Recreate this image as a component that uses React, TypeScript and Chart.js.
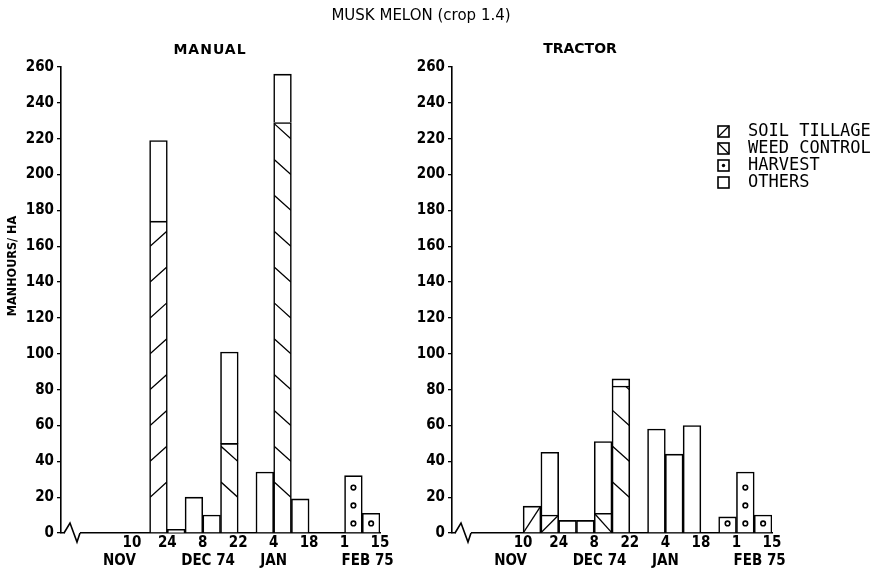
import React, { useEffect, useRef } from 'react';
import { Chart, registerables } from 'chart.js';

Chart.register(...registerables);
Chart.defaults.color = '#000';

// ---------- data ----------
// one bar per week; week 0 starts 13 Oct 1974, week 4 starts 10 Nov
const weekBins = [0, 1, 2, 3, 4, 5, 6, 7, 8, 9, 10, 11, 12, 13, 14, 15, 16, 17];

const seriesNames = ['SOIL TILLAGE', 'WEED CONTROL', 'HARVEST', 'OTHERS'];

const manualTillage = [null, null, null, null, null, 174, null, null, null, null, null, null, null, null, null, null, null, null];
const manualWeed = [null, null, null, null, null, null, null, null, null, 50, null, null, 229, null, null, null, null, null];
const manualHarvest = [null, null, null, null, null, null, null, null, null, null, null, null, null, null, null, null, 32, 11];
const manualOthers = [null, null, null, null, null, 45, 2, 20, 10, 51, null, 34, 27, 19, null, null, null, null];

const tractorTillage = [null, null, null, null, 15, 10, null, null, null, null, null, null, null, null, null, null, null, null];
const tractorWeed = [null, null, null, null, null, null, null, null, 11, 82, null, null, null, null, null, null, null, null];
const tractorHarvest = [null, null, null, null, null, null, null, null, null, null, null, null, null, null, null, 9, 34, 10];
const tractorOthers = [null, null, null, null, null, 35, 7, 7, 40, 4, null, 58, 44, 60, null, null, null, null];

const tickWeeks = [4, 6, 8, 10, 12, 14, 16, 18];
const tickDays = ['10', '24', '8', '22', '4', '18', '1', '15'];
const monthNames = ['NOV', 'DEC 74', 'JAN', 'FEB 75'];
const monthWeeks = [3.3, 8.3, 12.0, 17.3];

const hatchKinds = ['/', '\\', 'o', ''];

// ---------- styles ----------
const COND = "'DejaVu Sans Condensed', 'DejaVu Sans', sans-serif";
const SANS = "'DejaVu Sans', sans-serif";
const MONO = "'DejaVu Sans Mono', monospace";

function drawHatch(ctx: CanvasRenderingContext2D, ys: any, kind: string, left: number, right: number, top: number, bottom: number) {
  const v0 = ys.getValueForPixel(bottom);
  const v1 = ys.getValueForPixel(top);
  const w = right - left;
  const rise = w * 0.9;
  ctx.save();
  ctx.beginPath();
  ctx.rect(left, top, w, bottom - top);
  ctx.clip();
  ctx.strokeStyle = '#000';
  ctx.lineWidth = 1.3;
  if (kind === 'o') {
    for (let v = v0 + 5; v < v1 - 2; v += 10) {
      const cy = ys.getPixelForValue(v);
      ctx.beginPath();
      ctx.arc((left + right) / 2, cy, 2.3, 0, Math.PI * 2);
      ctx.lineWidth = 1.6;
      ctx.stroke();
    }
  } else if (kind === '/' || kind === '\\') {
    ctx.beginPath();
    if (v1 - v0 < 20) {
      if (kind === '/') { ctx.moveTo(left, bottom); ctx.lineTo(right, top); }
      else { ctx.moveTo(left, top); ctx.lineTo(right, bottom); }
    } else {
      for (let v = Math.ceil(v0 / 20 - 1e-6) * 20; v < v1; v += 20) {
        const py = ys.getPixelForValue(v);
        if (kind === '/') { ctx.moveTo(left, py); ctx.lineTo(right, py - rise); }
        else { ctx.moveTo(left, py - rise); ctx.lineTo(right, py); }
      }
    }
    ctx.stroke();
  }
  ctx.restore();
}

const hatchPlugin = {
  id: 'hatchFill',
  afterDatasetsDraw(chart: any) {
    const ctx = chart.ctx;
    const ys = chart.scales.y;
    chart.data.datasets.forEach((ds: any, di: number) => {
      const kind = ds.hatch;
      if (!kind) return;
      const meta = chart.getDatasetMeta(di);
      meta.data.forEach((el: any, i: number) => {
        if (ds.data[i] == null) return;
        const p = el.getProps(['x', 'y', 'base', 'width'], true);
        const left = p.x - p.width / 2;
        const right = p.x + p.width / 2;
        const top = Math.min(p.y, p.base);
        const bottom = Math.max(p.y, p.base);
        drawHatch(ctx, ys, kind, left + 0.5, right - 0.5, top + 0.5, bottom);
      });
    });
  },
};

const axisDecorPlugin = {
  id: 'axisDecor',
  afterDraw(chart: any) {
    const ctx = chart.ctx;
    const { left, bottom } = chart.chartArea;
    const xs = chart.scales.x;
    // axis break mark
    ctx.save();
    ctx.strokeStyle = '#fff';
    ctx.lineWidth = 4;
    ctx.beginPath();
    ctx.moveTo(left + 4, bottom);
    ctx.lineTo(left + 19, bottom);
    ctx.stroke();
    ctx.strokeStyle = '#000';
    ctx.lineWidth = 1.6;
    ctx.beginPath();
    ctx.moveTo(left + 3, bottom);
    ctx.lineTo(left + 9, bottom - 10);
    ctx.lineTo(left + 16, bottom + 9);
    ctx.lineTo(left + 19, bottom);
    ctx.stroke();
    // month names under the day ticks
    ctx.font = `bold 15px ${COND}`;
    ctx.fillStyle = '#000';
    ctx.textAlign = 'center';
    ctx.textBaseline = 'middle';
    monthNames.forEach((m, i) => {
      ctx.fillText(m, xs.getPixelForValue(monthWeeks[i]), bottom + 28);
    });
    ctx.restore();
  },
};

function makeTextPlugin(items: any[]) {
  return {
    id: 'freeText',
    afterDraw(chart: any) {
      const ctx = chart.ctx;
      items.forEach((t) => {
        ctx.save();
        ctx.font = t.font;
        if (t.spacing) (ctx as any).letterSpacing = t.spacing;
        ctx.fillStyle = '#000';
        ctx.textAlign = 'center';
        ctx.textBaseline = 'middle';
        ctx.translate(t.x, t.y);
        if (t.rotate) ctx.rotate(t.rotate);
        ctx.fillText(t.text, 0, 0);
        ctx.restore();
      });
    },
  };
}

function makeLegendPlugin(boxX: number, textX: number, firstY: number, gap: number) {
  return {
    id: 'patternLegend',
    afterDraw(chart: any) {
      const ctx = chart.ctx;
      chart.data.datasets.forEach((ds: any, i: number) => {
        const cy = firstY + i * gap;
        const top = cy - 5.5;
        const bottom = cy + 5.5;
        ctx.save();
        ctx.strokeStyle = '#000';
        ctx.lineWidth = 1.6;
        ctx.strokeRect(boxX, top, 11, 11);
        ctx.beginPath();
        ctx.lineWidth = 1.3;
        if (ds.hatch === '/') { ctx.moveTo(boxX, bottom); ctx.lineTo(boxX + 11, top); }
        if (ds.hatch === '\\') { ctx.moveTo(boxX, top); ctx.lineTo(boxX + 11, bottom); }
        ctx.stroke();
        if (ds.hatch === 'o') {
          ctx.beginPath();
          ctx.arc(boxX + 5.5, cy, 1.7, 0, Math.PI * 2);
          ctx.fill();
        }
        ctx.font = `17px ${MONO}`;
        ctx.fillStyle = '#000';
        ctx.textAlign = 'left';
        ctx.textBaseline = 'middle';
        ctx.fillText(ds.label, textX, cy + 0.5);
        ctx.restore();
      });
    },
  };
}

function makeConfig(series: any[], axisWidth: number, padRight: number, extraPlugins: any[]) {
  const datasets = series.map((arr, k) => ({
    label: seriesNames[k],
    data: arr,
    hatch: hatchKinds[k],
    backgroundColor: '#fff',
    borderColor: '#000',
    borderWidth: 1.6,
    barPercentage: 1,
    categoryPercentage: 1,
    stack: 'all',
  }));
  return {
    type: 'bar',
    data: { labels: weekBins.map((w) => w + 0.5), datasets },
    options: {
      responsive: false,
      animation: false,
      devicePixelRatio: 1,
      layout: { padding: { top: 67, right: padRight, left: 0, bottom: 0 } },
      plugins: { legend: { display: false }, tooltip: { enabled: false }, title: { display: false } },
      scales: {
        x: {
          type: 'linear',
          min: 0,
          max: 18,
          offset: false,
          stacked: true,
          afterBuildTicks: (s: any) => { s.ticks = tickWeeks.map((v) => ({ value: v })); },
          afterFit: (s: any) => { s.height = 39; },
          grid: { display: false, drawTicks: false, tickLength: 0, offset: false },
          border: { display: true, color: '#000', width: 1.6 },
          ticks: {
            autoSkip: false,
            maxRotation: 0,
            padding: 1,
            color: '#000',
            font: { family: COND, size: 15, weight: 'bold' },
            callback: (_v: any, i: number) => tickDays[i],
          },
        },
        y: {
          stacked: true,
          min: 0,
          max: 260,
          afterFit: (s: any) => { s.width = axisWidth; },
          grid: { display: true, drawOnChartArea: false, drawTicks: true, tickLength: 4, color: '#000', lineWidth: 1.3 },
          border: { display: true, color: '#000', width: 1.6 },
          ticks: { stepSize: 20, padding: 3, color: '#000', font: { family: COND, size: 15, weight: 'bold' } },
        },
      },
    },
    plugins: [hatchPlugin, axisDecorPlugin, ...extraPlugins],
  } as any;
}

export default function App() {
  const leftRef = useRef<HTMLCanvasElement>(null);
  const rightRef = useRef<HTMLCanvasElement>(null);

  useEffect(() => {
    const left = new Chart(
      leftRef.current!,
      makeConfig([manualTillage, manualWeed, manualHarvest, manualOthers], 61, 500, [
        makeTextPlugin([
          { text: 'MUSK MELON (crop 1.4)', x: 421, y: 16, font: `15px ${SANS}` },
          { text: 'MANUAL', x: 210, y: 50, font: `bold 14px ${SANS}`, spacing: '1px' },
          { text: 'MANHOURS/ HA', x: 13, y: 266, rotate: -Math.PI / 2, font: `bold 12.5px ${COND}` },
        ]),
      ])
    );
    const right = new Chart(
      rightRef.current!,
      makeConfig([tractorTillage, tractorWeed, tractorHarvest, tractorOthers], 52, 108, [
        makeTextPlugin([{ text: 'TRACTOR', x: 180, y: 49, font: `bold 14px ${SANS}` }]),
        makeLegendPlugin(318, 348, 131.5, 17),
      ])
    );
    return () => {
      left.destroy();
      right.destroy();
    };
  }, []);

  return (
    <div style={{ position: 'fixed', left: 0, top: 0, width: 880, height: 572, background: '#fff' }}>
      <canvas ref={leftRef} width={880} height={572} style={{ position: 'absolute', left: 0, top: 0, width: 880, height: 572 }} />
      <canvas ref={rightRef} width={480} height={572} style={{ position: 'absolute', left: 400, top: 0, width: 480, height: 572 }} />
    </div>
  );
}
